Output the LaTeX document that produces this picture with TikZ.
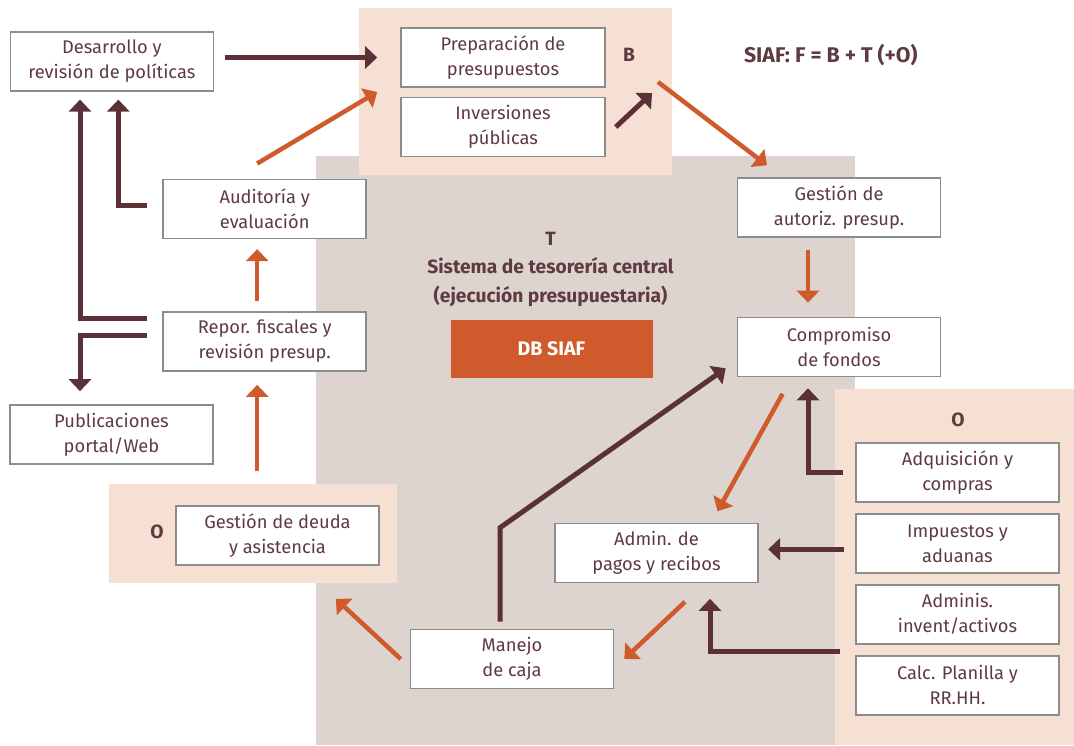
\documentclass[tikz,border=0pt]{standalone}
\usepackage{fontspec}
\setmainfont{Fira Sans}
\usetikzlibrary{arrows.meta}
\definecolor{siaftxt}{HTML}{5E3B40}
\definecolor{siafdark}{HTML}{5B3137}
\definecolor{siaforng}{HTML}{CF5A2B}
\definecolor{siafpeach}{HTML}{F5E0D3}
\definecolor{siafgrey}{HTML}{DDD4CF}
\definecolor{siafline}{HTML}{8C8C8C}
\begin{document}
\begin{tikzpicture}[x=1pt,y=-1pt,font=\fontsize{18.3}{25}\selectfont,
  box/.style={draw=siafline,line width=1.6pt,fill=white,text=siaftxt,align=center,minimum width=203pt,minimum height=59pt,inner sep=0pt},
  lab/.style={text=siaftxt,align=center,font=\fontsize{19.2}{28.5}\selectfont\bfseries},
  darr/.style={draw=siafdark,line width=5pt,-{Triangle[width=22pt,length=12pt]}},
  oarr/.style={draw=siaforng,line width=4.5pt,-{Triangle[width=22pt,length=12pt]}}]
\useasboundingbox (0,0) rectangle (1074,745);
% areas T, B and O
\fill[siafgrey] (316,156) rectangle (855,745);
\fill[siafpeach] (359,8) rectangle (672,175);\fill[siafpeach] (109,484) rectangle (397,583);\fill[siafpeach] (835,389) rectangle (1074,745);
% boxes
\node[box] (desa) at (111.8,61.3) {Desarrollo y\\revisión de políticas};
\node[box,minimum width=204pt] (prep) at (503,57.5) {Preparación de\\presupuestos};
\node[box,minimum width=204pt] (inv) at (503,127) {Inversiones\\públicas};
\node[box] (audi) at (264.7,208.8) {Auditoría y\\evaluación};
\node[box] (repo) at (264.7,341.5) {Repor. fiscales y\\revisión presup.};
\node[box] (publ) at (111.5,434.5) {Publicaciones\\portal/Web};
\node[box] (deuda) at (277.5,535.5) {Gestión de deuda\\y asistencia};
\node[box] (gest) at (839,207.5) {Gestión de\\autoriz. presup.};
\node[box] (comp) at (839,347) {Compromiso\\de fondos};
\node[box] (pago) at (656.5,553) {Admin. de\\pagos y recibos};
\node[box] (caja) at (512,659) {Manejo\\de caja};
\foreach \n/\y/\t in {adqu/472.5/{Adquisición y\\compras},impu/543.3/{Impuestos y\\aduanas},admi/614.3/{Adminis.\\invent/activos},calc/685.4/{Calc. Planilla y\\RR.HH.}}
  \node[box] (\n) at (957.5,\y) {\t};
\node[fill=siaforng,text=white,font=\fontsize{19.6}{25}\selectfont\bfseries,minimum width=202pt,minimum height=58pt,inner sep=0pt] (db) at (551.5,348.5) {DB SIAF};
% labels
\node[lab] (blab) at (629,55) {B};\node[lab] (ol) at (157,532) {O};\node[lab] (or) at (958,420) {O};
\node[lab] (tlab) at (550.5,269) {T\\Sistema de tesorería central\\(ejecución presupuestaria)};
\node[lab,font=\fontsize{21.3}{25}\selectfont\bfseries] (siaf) at (830.8,55) {SIAF: F = B + T (+O)};
\coordinate (bin) at (652,93);\coordinate (bout) at (658,82);
% dark arrows
\draw[darr,shorten <=11,shorten >=23] (desa.east|-prep.west) -- (prep.west);
\draw[darr] ([xshift=10]inv.east) -- (bin);
\draw[darr,shorten >=8] ([shift={(-15,-23)}]repo.west) -| ([xshift=-31.8]desa.south);
\draw[darr,shorten >=8] ([shift={(-15,-3)}]audi.west) -| ([xshift=6.5]desa.south);
\draw[darr,shorten >=13] ([shift={(-15,-6)}]repo.west) -| ([xshift=-31.5]publ.north);
\draw[darr] ([shift={(-12,-7)}]caja.north) -- ++(0,-94) -- ([shift={(-11,-9)}]comp.south west);
\draw[darr,shorten >=11] ([xshift=-12]adqu.west) -| ([xshift=-31]comp.south);
\draw[darr] ([shift={(-11,6)}]impu.west) -- ++(-76,0);
\draw[darr,shorten >=15.5] ([shift={(-15,-4)}]calc.north west) -| ([xshift=53.5]pago.south);
% orange arrows
\draw[oarr] ([shift={(-7.5,-15)}]audi.north) -- ([shift={(-23,34.5)}]prep.west);
\draw[oarr] (bout) -- ([shift={(-72,-12)}]gest.north);
\draw[oarr,shorten <=12,shorten >=14] ([xshift=-31]gest.south) -- ([xshift=-31]comp.north);
\draw[oarr] ([shift={(-56.4,16.5)}]comp.south) -- ([shift={(61,-11.5)}]pago.north);
\draw[oarr] ([shift={(28.5,18.5)}]pago.south) -- ([xshift=10]caja.east);
\draw[oarr] ([xshift=-9]caja.west) -- ([shift={(-44,33)}]deuda.south east);
\draw[oarr,shorten <=34,shorten >=13] ([xshift=-7.5]repo.south|-deuda.north) -- ([xshift=-7.5]repo.south);
\draw[oarr,shorten <=10,shorten >=10] ([xshift=-7.5]repo.north) -- ([xshift=-7.5]audi.south);
\end{tikzpicture}
\end{document}
